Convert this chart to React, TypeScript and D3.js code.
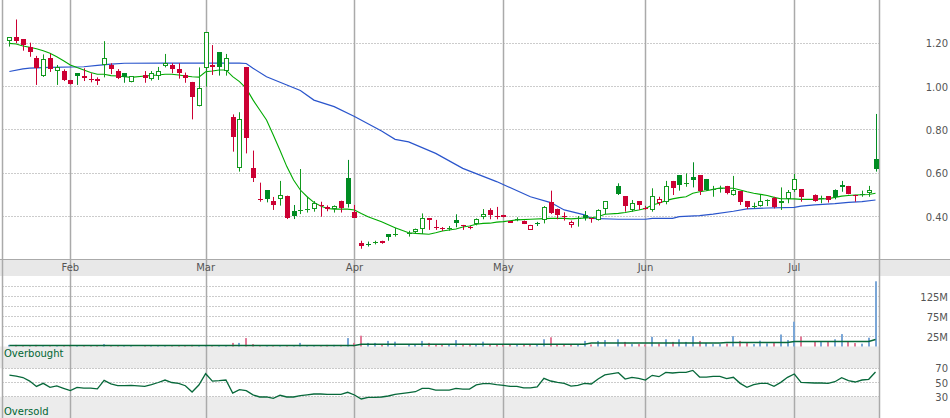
import React from "react";
import * as d3 from "d3";

// ---- data (index = trading-day slot; null = market holiday) ----
const opens: (number | null)[] = [
  1.21, 1.228, 1.22, 1.184, 1.13, 1.048, 1.131, 1.07, 1.072, 1.031,
  1.062, 1.049, 1.034, 1.035, 1.1, 1.1, 1.072, 1.062, 1.02, null,
  1.054, 1.037, 1.049, 1.097, 1.098, 1.08, 1.052, 1.022, 0.909, 1.085,
  1.102, 1.16, 1.072, 0.859, 0.623, 1.091, 0.626, 0.482, 0.523, 0.472,
  0.48, 0.497, 0.426, 0.429, 0.433, 0.434, 0.454, 0.434, 0.436, 0.474,
  0.58, 0.423, 0.278, 0.275, 0.281, 0.286, 0.319, 0.316, null, 0.325,
  0.328, 0.345, 0.394, 0.352, 0.348, 0.346, 0.386, 0.36, 0.354, 0.365,
  0.398, 0.432, 0.405, 0.408, 0.379, 0.387, 0.382, 0.34, 0.371, 0.383,
  0.468, 0.437, 0.405, 0.36, 0.392, 0.406, 0.392, 0.386, 0.435, null,
  0.542, 0.495, 0.431, 0.472, 0.44, 0.431, 0.462, 0.469, 0.565, 0.592,
  0.552, 0.585, 0.592, 0.574, 0.524, 0.53, 0.542, 0.5, 0.518, 0.472,
  0.447, 0.449, 0.475, 0.488, 0.462, 0.48, 0.523, 0.526, null, 0.5,
  0.483, 0.495, 0.523, 0.546, 0.542, 0.501, 0.501, 0.508, 0.665,
];
const highs: (number | null)[] = [
  1.228, 1.31, 1.22, 1.203, 1.142, 1.149, 1.151, 1.1, 1.08, 1.031,
  1.062, 1.085, 1.062, 1.043, 1.21, 1.108, 1.081, 1.062, 1.048, null,
  1.072, 1.072, 1.091, 1.151, 1.108, 1.108, 1.065, 1.022, 1.089, 1.251,
  1.192, 1.16, 1.151, 0.872, 0.882, 1.091, 0.705, 0.557, 0.523, 0.491,
  0.565, 0.497, 0.454, 0.62, 0.492, 0.472, 0.469, 0.452, 0.452, 0.474,
  0.662, 0.454, 0.289, 0.285, 0.289, 0.289, 0.319, 0.349, null, 0.335,
  0.345, 0.415, 0.394, 0.385, 0.352, 0.357, 0.411, 0.362, 0.357, 0.392,
  0.435, 0.439, 0.445, 0.408, 0.379, 0.397, 0.382, 0.362, 0.376, 0.449,
  0.52, 0.437, 0.42, 0.382, 0.403, 0.426, 0.392, 0.434, 0.471, null,
  0.554, 0.495, 0.477, 0.472, 0.45, 0.531, 0.492, 0.565, 0.565, 0.592,
  0.6, 0.651, 0.592, 0.574, 0.542, 0.543, 0.542, 0.588, 0.518, 0.472,
  0.465, 0.5, 0.48, 0.492, 0.535, 0.523, 0.597, 0.526, null, 0.503,
  0.497, 0.495, 0.526, 0.565, 0.542, 0.501, 0.52, 0.542, 0.874,
];
const lows: (number | null)[] = [
  1.185, 1.2, 1.166, 1.138, 1.008, 1.045, 1.068, 1.008, 1.026, 1.01,
  1.008, 1.026, 1.02, 1.008, 1.043, 1.058, 1.035, 1.018, 1.02, null,
  1.018, 1.028, 1.031, 1.089, 1.062, 1.037, 1.018, 0.849, 0.909, 1.0,
  1.054, 1.051, 1.051, 0.7, 0.608, 0.692, 0.56, 0.469, 0.466, 0.431,
  0.451, 0.389, 0.389, 0.412, 0.419, 0.423, 0.4, 0.425, 0.419, 0.419,
  0.442, 0.395, 0.252, 0.262, 0.272, 0.275, 0.289, 0.308, null, 0.308,
  0.32, 0.32, 0.339, 0.339, 0.334, 0.335, 0.351, 0.339, 0.342, 0.36,
  0.388, 0.388, 0.388, 0.397, 0.372, 0.379, 0.366, 0.339, 0.357, 0.369,
  0.412, 0.388, 0.382, 0.349, 0.354, 0.382, 0.372, 0.382, 0.411, null,
  0.5, 0.423, 0.423, 0.431, 0.432, 0.423, 0.452, 0.457, 0.5, 0.52,
  0.538, 0.535, 0.5, 0.52, 0.492, 0.511, 0.503, 0.497, 0.454, 0.435,
  0.438, 0.446, 0.449, 0.438, 0.431, 0.462, 0.514, 0.469, null, 0.469,
  0.462, 0.465, 0.48, 0.515, 0.503, 0.469, 0.492, 0.492, 0.608,
];
const closes: (number | null)[] = [
  1.228, 1.212, 1.19, 1.161, 1.086, 1.129, 1.083, 1.09, 1.031, 1.014,
  1.049, 1.04, 1.029, 1.025, 1.131, 1.082, 1.04, 1.043, 1.048, null,
  1.04, 1.062, 1.071, 1.108, 1.082, 1.062, 1.042, 0.954, 0.992, 1.251,
  1.092, 1.093, 1.131, 0.769, 0.849, 0.765, 0.58, 0.477, 0.482, 0.454,
  0.5, 0.392, 0.405, 0.431, 0.436, 0.463, 0.451, 0.443, 0.448, 0.439,
  0.46, 0.396, 0.264, 0.27, 0.283, 0.279, 0.305, 0.319, null, 0.326,
  0.343, 0.394, 0.386, 0.349, 0.346, 0.349, 0.371, 0.357, 0.351, 0.389,
  0.412, 0.41, 0.402, 0.397, 0.372, 0.389, 0.366, 0.36, 0.364, 0.445,
  0.415, 0.41, 0.402, 0.376, 0.394, 0.396, 0.389, 0.431, 0.471, null,
  0.503, 0.449, 0.462, 0.454, 0.436, 0.495, 0.482, 0.542, 0.534, 0.546,
  0.555, 0.569, 0.52, 0.523, 0.527, 0.533, 0.511, 0.523, 0.469, 0.446,
  0.45, 0.474, 0.478, 0.443, 0.474, 0.515, 0.572, 0.492, null, 0.474,
  0.486, 0.477, 0.489, 0.536, 0.503, 0.499, 0.503, 0.523, 0.62,
];
// volume in millions of shares
const volumes: (number | null)[] = [
  4, 4, 3, 3, 4, 3, 3, 3, 3, 3,
  3, 3, 3, 3, 6, 3, 3, 3, 3, null,
  3, 3, 3, 3, 3, 3, 3, 4, 3, 3,
  3, 3, 3, 9, 9, 21, 6, 3, 3, 3,
  3, 3, 3, 9, 3, 3, 3, 4, 4, 4,
  21, 9, 27, 9, 9, 4, 14, 12, null, 5,
  5, 14, 9, 5, 5, 5, 16, 5, 5, 5,
  12, 5, 5, 5, 5, 5, 5, 5, 5, 18,
  23, 5, 5, 5, 5, 14, 5, 14, 16, null,
  18, 11.5, 6, 6, 5, 24, 7.5, 18, 11.5, 18,
  11.5, 26, 14, 9, 6, 6, 7.5, 26, 14, 9,
  6, 14.5, 8, 9.5, 30, 16, 62, 25, null, 12,
  12, 12, 18, 31, 12, 8.5, 7, 22, 163,
];
// moving averages: [slot, value]
const maShort: [number, number][] = [
  [0, 1.2], [1, 1.197], [2, 1.188], [3, 1.182], [4, 1.175], [5, 1.166], [6, 1.154], [7, 1.138],
  [8, 1.12], [9, 1.1], [10, 1.088], [11, 1.077], [12, 1.065], [13, 1.057], [14, 1.057], [15, 1.051],
  [16, 1.049], [17, 1.046], [18, 1.043], [20, 1.049], [22, 1.054], [23, 1.057], [24, 1.057], [25, 1.054],
  [26, 1.049], [27, 1.046], [28, 1.044], [29, 1.069], [30, 1.072], [31, 1.077], [32, 1.077], [33, 1.046],
  [34, 1.023], [35, 0.992], [36, 0.939], [37, 0.892], [38, 0.846], [39, 0.777], [40, 0.705], [41, 0.631],
  [42, 0.569], [43, 0.523], [44, 0.492], [45, 0.466], [46, 0.449], [47, 0.438], [48, 0.435], [50, 0.435],
  [51, 0.431], [52, 0.415], [53, 0.4], [55, 0.377], [57, 0.349], [59, 0.326], [60, 0.323], [62, 0.319],
  [63, 0.326], [64, 0.334], [66, 0.343], [67, 0.352], [68, 0.357], [69, 0.365], [70, 0.369], [71, 0.37],
  [72, 0.375], [73, 0.377], [75, 0.385], [77, 0.388], [80, 0.392], [82, 0.392], [83, 0.39], [84, 0.392],
  [86, 0.395], [87, 0.4], [88, 0.411], [90, 0.415], [91, 0.419], [92, 0.425], [93, 0.431], [94, 0.438],
  [95, 0.454], [96, 0.462], [97, 0.474], [98, 0.482], [99, 0.488], [100, 0.492], [101, 0.508], [102, 0.515],
  [103, 0.52], [104, 0.526], [105, 0.532], [107, 0.531], [108, 0.523], [109, 0.515], [110, 0.508], [111, 0.503],
  [112, 0.498], [113, 0.489], [114, 0.483], [116, 0.482], [117, 0.48], [119, 0.48], [120, 0.482], [121, 0.483],
  [122, 0.489], [123, 0.495], [124, 0.498], [125, 0.5], [127, 0.502], [128, 0.508],
];
const maLong: [number, number][] = [
  [0, 1.07], [2, 1.082], [3, 1.086], [6, 1.089], [11, 1.092], [13, 1.098], [15, 1.104], [17, 1.108],
  [23, 1.109], [34, 1.109], [35, 1.107], [36, 1.085], [38, 1.046], [41, 1.008], [43, 0.982], [45, 0.938],
  [48, 0.908], [51, 0.862], [55, 0.795], [57, 0.757], [59, 0.745], [63, 0.692], [67, 0.623], [72, 0.562],
  [77, 0.492], [80, 0.465], [82, 0.431], [85, 0.408], [86, 0.392], [90, 0.388], [94, 0.388], [95, 0.392],
  [98, 0.392], [99, 0.4], [102, 0.405], [104, 0.412], [107, 0.425], [109, 0.436], [112, 0.44], [116, 0.443],
  [117, 0.449], [119, 0.454], [122, 0.46], [124, 0.466], [126, 0.469], [128, 0.477],
];
const volumeMA: [number, number][] = [
  [0, 2.5], [51, 2.5], [52, 5.5], [85, 5.5], [86, 8.5], [105, 8.5], [106, 10], [115, 10],
  [116, 12.5], [127, 12.5], [128, 17.5],
];
const rsi: [number, number][] = [
  [0, 60.5], [1, 59], [2, 57], [3, 52], [4, 44.5], [5, 48.8], [6, 43.2], [7, 45.1], [8, 41.8], [9, 38.5],
  [10, 43.2], [11, 42], [12, 42], [13, 41], [14, 53], [15, 48], [16, 45.5], [17, 45.5], [18, 46], [20, 44.6],
  [21, 47], [22, 50], [23, 53.5], [24, 50], [25, 48.8], [26, 45.5], [27, 36.6], [28, 46.5], [29, 62.4], [30, 52],
  [31, 52.5], [32, 53.5], [33, 35.2], [34, 40], [35, 38.5], [36, 32.5], [37, 29.6], [38, 29.6], [39, 27.7], [40, 32],
  [41, 29.6], [42, 29.6], [43, 31.4], [44, 32.5], [45, 33.8], [46, 33.8], [47, 33.3], [48, 33.3], [49, 33.3], [50, 36.2],
  [51, 32.4], [52, 26.8], [53, 29.1], [54, 29.1], [55, 29.6], [56, 31], [57, 33.3], [59, 35.7], [60, 37], [61, 41.8],
  [62, 41.8], [63, 39.4], [64, 39.4], [65, 39.4], [66, 41.8], [67, 40.8], [68, 40.8], [69, 46.5], [70, 48.4], [71, 48.4],
  [72, 47], [73, 46], [74, 44.6], [75, 44.6], [76, 42.3], [77, 42.3], [78, 43.7], [79, 55.9], [80, 52.1], [81, 50.2],
  [82, 48.8], [83, 45], [84, 46], [85, 48.8], [86, 47.9], [87, 54.9], [88, 60.6], [90, 63.8], [91, 54.9], [92, 57.3],
  [93, 55.9], [94, 53.5], [95, 60.1], [96, 58.2], [97, 64.3], [98, 63.4], [99, 64.3], [100, 64.3], [101, 67.1], [102, 57.7],
  [103, 57.7], [104, 58.7], [105, 58.7], [106, 55.4], [107, 57.3], [108, 48.8], [109, 43.2], [110, 47], [111, 48.8], [112, 48.8],
  [113, 44.6], [114, 50.2], [115, 57.3], [116, 62], [117, 50.2], [119, 49.3], [120, 49.3], [121, 48.8], [122, 51.1], [123, 56.8],
  [124, 52.6], [125, 50.7], [126, 53.5], [127, 54.5], [128, 64.8],
];
const monthLabels = ["Feb", "Mar", "Apr", "May", "Jun", "Jul"];
const monthSlots = [9, 29, 51, 73, 94, 116];
const priceTicks = [0.4, 0.6, 0.8, 1.0, 1.2];
const volumeGrid = [25, 50, 75, 100, 125, 150];
const volumeTicks = [25, 75, 125];
const rsiTicks = [30, 50, 70];

const FONT = "'DejaVu Sans', Verdana, sans-serif";
const RED = "#cc0033";
const GREEN_FILL = "#008c22";
const GREEN_HOLLOW = "#12991e";
const GRID = "#999";
const FRAME = "#aaa";
const TXT = "#555";
const DARK = "#07683a";

export default function App() {
  const W = 950;
  const H = 418;
  const plotL = 2.5;
  const plotR = 879.5;
  const x = d3.scaleLinear().domain([0, 128]).range([9.4, 875.5]);
  const yP = d3.scaleLinear().domain([0.4, 1.2]).range([216.67, 43.33]);
  const yV = d3.scaleLinear().domain([0, 175]).range([346.5, 276.5]);
  const yR = d3.scaleLinear().domain([0, 100]).range([418, 347]);

  const px = (i: number) => Math.round(x(i)) + 0.5;
  const half = (v: number) => Math.round(v - 0.5) + 0.5;

  const lineP = d3.line<[number, number]>().x((d) => x(d[0])).y((d) => yP(d[1]));
  const lineV = d3.line<[number, number]>().x((d) => x(d[0])).y((d) => yV(d[1]));
  const lineR = d3.line<[number, number]>().x((d) => x(d[0])).y((d) => yR(d[1]));

  const prevClose = (i: number): number | null => {
    for (let k = i - 1; k >= 0; k--) if (closes[k] != null) return closes[k] as number;
    return null;
  };
  const isUp = (i: number) => {
    const p = prevClose(i);
    const c = closes[i] as number;
    return p == null ? true : c >= p;
  };

  const candles = closes.map((c, i) => {
    if (c == null) return null;
    const o = opens[i] as number;
    const h = highs[i] as number;
    const l = lows[i] as number;
    const up = isUp(i);
    const hollow = c > o;
    const color = up ? (hollow ? GREEN_HOLLOW : GREEN_FILL) : RED;
    const cx = px(i);
    const t = Math.round(yP(Math.max(o, c)));
    const b = Math.round(yP(Math.min(o, c)));
    const bh = b - t;
    let body;
    if (hollow && bh >= 2) {
      body = (
        <rect x={cx - 2} y={t + 0.5} width={4} height={bh - 1} fill="#fff" stroke={color} strokeWidth={1} />
      );
    } else {
      body = <rect x={cx - 2.5} y={t} width={5} height={Math.max(1, bh)} fill={color} />;
    }
    return (
      <g key={"c" + i}>
        <line x1={cx} x2={cx} y1={yP(h)} y2={yP(l)} stroke={color} strokeWidth={1} />
        {body}
      </g>
    );
  });

  const vbars = volumes.map((v, i) => {
    if (v == null) return null;
    const up = isUp(i);
    const cx = Math.round(x(i));
    return (
      <rect
        key={"v" + i}
        x={cx - 1}
        y={yV(v)}
        width={2}
        height={yV(0) - yV(v)}
        fill={up ? "#7aa6d6" : "#e27b98"}
      />
    );
  });

  return (
    <svg
      width={W}
      height={H}
      style={{ position: "absolute", left: 0, top: 0, background: "#fff" }}
      fontFamily={FONT}
    >
      <rect x={0} y={0} width={W} height={H} fill="#fff" />
      {/* date band */}
      <rect x={0} y={259} width={W} height={17} fill="#e8e8e8" />
      <line x1={0} x2={W} y1={259.5} y2={259.5} stroke={FRAME} strokeWidth={1} />
      {/* RSI bands */}
      <rect x={0} y={346.5} width={plotR} height={yR(70) - 346.5} fill="#ececec" />
      <rect x={0} y={yR(30)} width={plotR} height={H - yR(30)} fill="#ececec" />

      {/* price grid */}
      {priceTicks.map((p) => (
        <line key={"pg" + p} x1={plotL} x2={plotR} y1={half(yP(p))} y2={half(yP(p))} stroke={GRID} strokeDasharray="1 2" />
      ))}
      {/* volume grid */}
      {volumeGrid.map((v) => (
        <line key={"vg" + v} x1={plotL} x2={plotR} y1={half(yV(v))} y2={half(yV(v))} stroke={GRID} strokeDasharray="1 2" />
      ))}
      {/* rsi grid */}
      {rsiTicks.map((r) => (
        <line key={"rg" + r} x1={plotL} x2={plotR} y1={half(yR(r))} y2={half(yR(r))} stroke={GRID} strokeDasharray="1 2" />
      ))}

      {/* frame + month lines */}
      <line x1={plotL} x2={plotL} y1={0} y2={H} stroke={FRAME} strokeWidth={1.5} />
      <line x1={plotR} x2={plotR} y1={0} y2={H} stroke={FRAME} strokeWidth={1.5} />
      {monthSlots.map((m, k) => (
        <g key={"m" + k}>
          <line x1={px(m)} x2={px(m)} y1={0} y2={H} stroke={FRAME} strokeWidth={1.5} />
          <text x={x(m)} y={270.5} textAnchor="middle" fontSize={10} fill={TXT}>
            {monthLabels[k]}
          </text>
        </g>
      ))}

      {/* volume */}
      {vbars}
      <path d={lineV(volumeMA) || ""} fill="none" stroke={DARK} strokeWidth={1.5} />

      {/* RSI */}
      <path d={lineR(rsi) || ""} fill="none" stroke={DARK} strokeWidth={1.3} />
      <text x={4} y={357} fontSize={10} fill="#006633">Overbought</text>
      <text x={4} y={415} fontSize={10} fill="#006633">Oversold</text>

      {/* moving averages */}
      <path d={lineP(maLong) || ""} fill="none" stroke="#2a55cc" strokeWidth={1.2} />
      <path d={lineP(maShort) || ""} fill="none" stroke="#00aa00" strokeWidth={1.1} />

      {/* candles */}
      {candles}

      {/* right axis labels */}
      {priceTicks.map((p) => (
        <text key={"pl" + p} x={948} y={yP(p) + 4} textAnchor="end" fontSize={10} fill={TXT}>
          {p.toFixed(2)}
        </text>
      ))}
      {volumeTicks.map((v) => (
        <text key={"vl" + v} x={948} y={yV(v) + 4} textAnchor="end" fontSize={10} fill={TXT}>
          {v + "M"}
        </text>
      ))}
      {rsiTicks.map((r) => (
        <text key={"rl" + r} x={948} y={yR(r) + 4} textAnchor="end" fontSize={10} fill={TXT}>
          {r}
        </text>
      ))}
    </svg>
  );
}
